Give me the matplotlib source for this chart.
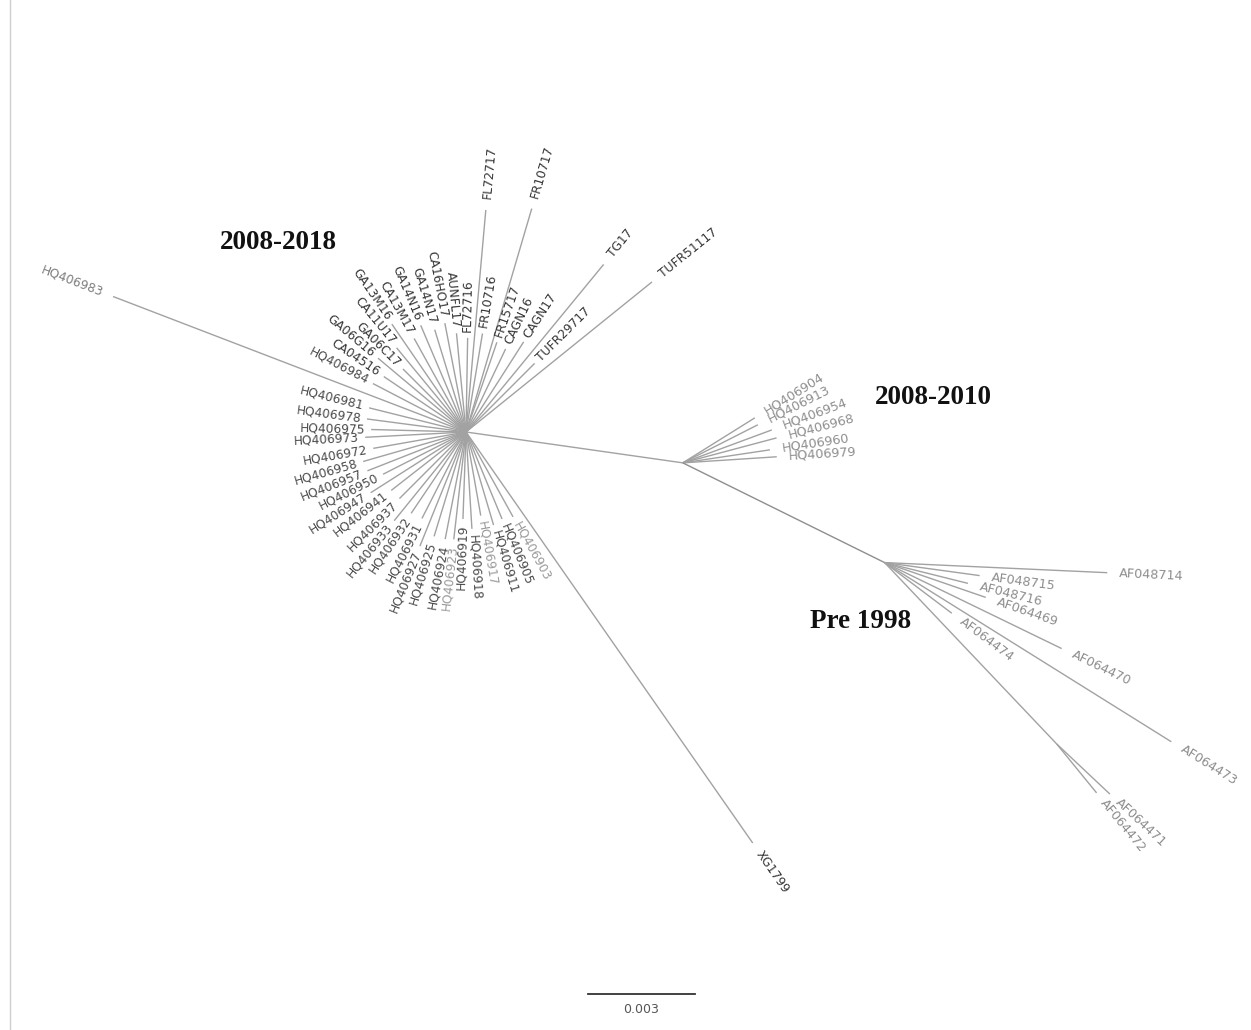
import numpy as np
import matplotlib
matplotlib.use("Agg")
import matplotlib.pyplot as plt

# ---------------- data (branch lengths in substitutions/site, angles in degrees) ----
SCALE_LEN = 0.003

# leaves hanging from the central hub (2008-2018 cluster and relatives)
hub_labels = ["TUFR51117", "TG17", "TUFR29717", "CAGN17", "CAGN16", "FR15717",
              "FR10717", "FL72717", "FR10716", "FL72716", "AUNFL17", "CA16HO17",
              "GA14N17", "GA14N16", "CA13M17", "GA13M16", "CA11U17", "GA06C17",
              "GA06G16", "CA04516", "HQ406984", "HQ406983", "HQ406981", "HQ406978",
              "HQ406975", "HQ406973", "HQ406972", "HQ406958", "HQ406957", "HQ406950",
              "HQ406947", "HQ406941", "HQ406937", "HQ406933", "HQ406932", "HQ406931",
              "HQ406927", "HQ406925", "HQ406924", "HQ406923", "HQ406919", "HQ406918",
              "HQ406917", "HQ406911", "HQ406905", "HQ406903", "XG1799"]
hub_angles = [38.9, 50.6, 45.0, 57.4, 64.5, 71.0,
              73.6, 84.9, 80.5, 89.0, 95.5, 101.0,
              107.0, 113.0, 119.0, 124.5, 129.5, 135.0,
              140.0, 146.0, 152.5, 159.0, 166.0, 172.5,
              178.5, 183.0, 190.0, 196.0, 201.5, 207.0,
              212.5, 218.0, 225.0, 231.0, 236.0, 243.0,
              248.0, 253.0, 259.0, 263.5, 268.0, 273.5,
              280.0, 286.5, 292.5, 299.0, 304.9]
hub_lengths = [0.00670, 0.00608, 0.00272, 0.00300, 0.00258, 0.00266,
               0.00653, 0.00625, 0.00280, 0.00264, 0.00278, 0.00311,
               0.00300, 0.00325, 0.00300, 0.00367, 0.00306, 0.00250,
               0.00322, 0.00278, 0.00294, 0.01060, 0.00280, 0.00280,
               0.00266, 0.00283, 0.00264, 0.00300, 0.00297, 0.00261,
               0.00317, 0.00266, 0.00264, 0.00320, 0.00275, 0.00272,
               0.00345, 0.00306, 0.00306, 0.00303, 0.00244, 0.00272,
               0.00238, 0.00272, 0.00264, 0.00272, 0.01405]

# internal branch hub -> node B (2008-2010) -> node C (pre 1998)
hub_to_b_angle, hub_to_b_len = -8.1, 0.00614
b_to_c_angle, b_to_c_len = -26.3, 0.00631

b_labels = ["HQ406904", "HQ406913", "HQ406954", "HQ406968", "HQ406960", "HQ406979"]
b_angles = [32.0, 26.9, 20.3, 14.9, 8.5, 3.7]
b_lengths = [0.00238, 0.00236, 0.00266, 0.00272, 0.00247, 0.00264]

c_labels = ["AF048714", "AF048715", "AF048716", "AF064469", "AF064470", "AF064473", "AF064474"]
c_angles = [-2.6, -7.8, -14.0, -19.0, -25.9, -32.0, -37.0]
c_lengths = [0.00625, 0.00269, 0.00241, 0.00300, 0.00552, 0.00948, 0.00236]

# sub-clade of node C
d_angle, d_len = -46.5, 0.00701
d_labels = ["AF064471", "AF064472"]
d_angles = [-43.3, -50.8]
d_lengths = [0.00205, 0.00177]

clade_titles = ["2008-2018", "2008-2010", "Pre 1998"]

# ---------------- layout ----------------
W, H = 1251, 1030
PX = 107 / SCALE_LEN          # pixels per unit of branch length
HUB_PX = (466, 432)           # position of the hub inside the canvas

fig = plt.figure(figsize=(W / 100, H / 100), dpi=100)
ax = fig.add_axes([0, 0, 1, 1])
ax.set_xlim(-HUB_PX[0] / PX, (W - HUB_PX[0]) / PX)
ax.set_ylim(-(H - HUB_PX[1]) / PX, HUB_PX[1] / PX)
ax.axis("off")

LINE_C = "#a2a2a2"


def endpoint(p, ang, length):
    a = np.deg2rad(ang)
    return (p[0] + length * np.cos(a), p[1] + length * np.sin(a))


def branch(p, ang, length, color=LINE_C, lw=1.0):
    q = endpoint(p, ang, length)
    ax.plot([p[0], q[0]], [p[1], q[1]], color=color, lw=lw, solid_capstyle="butt")
    return q


def leaf(p, ang, length, name, tcolor, fs=8.8, gap_px=6):
    q = branch(p, ang, length)
    lp = endpoint(q, ang, gap_px / PX)
    a = (ang + 180) % 360 - 180
    if -90 < a <= 90:
        rot, ha = a, "left"
    else:
        rot, ha = a - 180 if a > 0 else a + 180, "right"
    ax.text(lp[0], lp[1], name, rotation=rot, rotation_mode="anchor",
            ha=ha, va="center", fontsize=fs, color=tcolor,
            family="DejaVu Sans")


hub = (0.0, 0.0)
light_hq = {"HQ406923", "HQ406917", "HQ406903"}
for name, ang, ln in zip(hub_labels, hub_angles, hub_lengths):
    if name.startswith("HQ"):
        col = "#9a9a9a" if name in light_hq else "#4a4a4a"
        if name == "HQ406983":
            col = "#7c7c7c"
    else:
        col = "#363636"
    gap = 11 if ln > 0.005 else 6
    leaf(hub, ang, ln, name, col, gap_px=gap)

node_b = branch(hub, hub_to_b_angle, hub_to_b_len)
for name, ang, ln in zip(b_labels, b_angles, b_lengths):
    leaf(node_b, ang, ln, name, "#8e8e8e", fs=9.2, gap_px=12)

node_c = branch(node_b, b_to_c_angle, b_to_c_len, color="#8e8e8e")
for name, ang, ln in zip(c_labels, c_angles, c_lengths):
    leaf(node_c, ang, ln, name, "#8e8e8e", fs=9.2, gap_px=12)

node_d = branch(node_c, d_angle, d_len)
for name, ang, ln in zip(d_labels, d_angles, d_lengths):
    leaf(node_d, ang, ln, name, "#8e8e8e", fs=9.2, gap_px=10)

# clade titles
title_pos = [(220, 249), (875, 404), (810, 628)]
for t, (x, y) in zip(clade_titles, title_pos):
    fig.text(x / W, 1 - y / H, t, ha="left", va="baseline", fontsize=19.5,
             fontweight="bold", family="Liberation Serif", color="#111111")

# scale bar
x0 = (588 - HUB_PX[0]) / PX
y0 = -(994 - HUB_PX[1]) / PX
ax.plot([x0, x0 + SCALE_LEN], [y0, y0], color="#333333", lw=1.3)
ax.text(x0 + SCALE_LEN / 2, y0 - 9 / PX, f"{SCALE_LEN:.3f}", ha="center", va="top",
        fontsize=9, color="#555555")

# faint page edge on the left
fig.add_artist(plt.Line2D([10 / W, 10 / W], [0.0, 1.0], color="#cfcfcf", lw=1.0))

fig.savefig("out.png", dpi=100, facecolor="white")
